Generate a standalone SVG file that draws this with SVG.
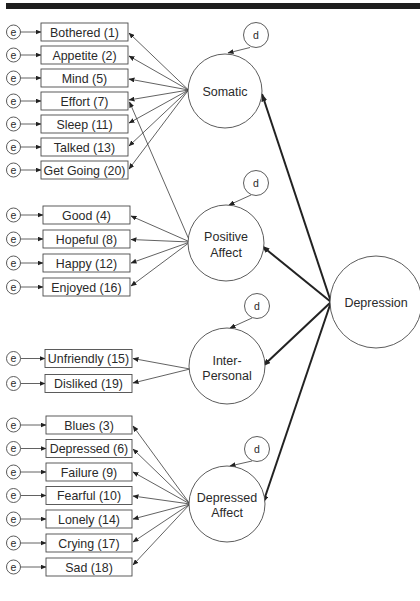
<svg xmlns="http://www.w3.org/2000/svg" width="420" height="601" viewBox="0 0 420 601">
<style>
text{font-family:"Liberation Sans",Arial,sans-serif;fill:#2a2a2a;text-anchor:middle}
.bt{font-size:12.4px}
.ct{font-size:12.5px}
.st{font-size:10.5px}
.box{fill:#fff;stroke:#4a4a4a;stroke-width:0.9}
.cir{fill:#fff;stroke:#4a4a4a;stroke-width:0.9}
.thin{stroke:#3a3a3a;stroke-width:0.8;fill:none;marker-end:url(#ah)}
.thick{stroke:#222;stroke-width:2;fill:none;marker-end:url(#ahb)}
</style>
<defs>
<marker id="ah" markerUnits="userSpaceOnUse" markerWidth="6" markerHeight="5" refX="5.5" refY="2.5" orient="auto"><path d="M0,0 L6,2.5 L0,5 Z" fill="#222"/></marker>
<marker id="ahb" markerUnits="userSpaceOnUse" markerWidth="8" markerHeight="6" refX="7.5" refY="3" orient="auto"><path d="M0,0 L8,3 L0,6 Z" fill="#222"/></marker>
</defs>
<rect x="6" y="3" width="414" height="6" fill="#1e1e1e"/>
<g id="connectors">
<!-- e to boxes -->
<line class="thin" x1="20.5" y1="32" x2="41" y2="32"/>
<line class="thin" x1="20.5" y1="55" x2="41" y2="55"/>
<line class="thin" x1="20.5" y1="78" x2="41" y2="78"/>
<line class="thin" x1="20.5" y1="101" x2="41" y2="101"/>
<line class="thin" x1="20.5" y1="124" x2="41" y2="124"/>
<line class="thin" x1="20.5" y1="147" x2="41" y2="147"/>
<line class="thin" x1="20.5" y1="170" x2="41" y2="170"/>
<line class="thin" x1="20.5" y1="215" x2="43" y2="215"/>
<line class="thin" x1="20.5" y1="239" x2="43" y2="239"/>
<line class="thin" x1="20.5" y1="263" x2="43" y2="263"/>
<line class="thin" x1="20.5" y1="287" x2="43" y2="287"/>
<line class="thin" x1="20.5" y1="358.5" x2="45" y2="358.5"/>
<line class="thin" x1="20.5" y1="383.5" x2="45" y2="383.5"/>
<line class="thin" x1="20.5" y1="425" x2="46" y2="425"/>
<line class="thin" x1="20.5" y1="448.5" x2="46" y2="448.5"/>
<line class="thin" x1="20.5" y1="472" x2="46" y2="472"/>
<line class="thin" x1="20.5" y1="495.5" x2="46" y2="495.5"/>
<line class="thin" x1="20.5" y1="519" x2="46" y2="519"/>
<line class="thin" x1="20.5" y1="543" x2="46" y2="543"/>
<line class="thin" x1="20.5" y1="567" x2="46" y2="567"/>
<!-- Somatic loadings -->
<line class="thin" x1="188.5" y1="90" x2="129" y2="33"/>
<line class="thin" x1="188.5" y1="90" x2="129" y2="56"/>
<line class="thin" x1="188.5" y1="90" x2="129" y2="79"/>
<line class="thin" x1="188.5" y1="90" x2="129" y2="100"/>
<line class="thin" x1="188.5" y1="90" x2="129" y2="123"/>
<line class="thin" x1="188.5" y1="90" x2="129" y2="146"/>
<line class="thin" x1="188.5" y1="90" x2="129" y2="169"/>
<!-- Positive affect loadings -->
<line class="thin" x1="190" y1="242" x2="131" y2="216"/>
<line class="thin" x1="190" y1="242" x2="131" y2="239.5"/>
<line class="thin" x1="190" y1="242" x2="131" y2="263"/>
<line class="thin" x1="190" y1="242" x2="131" y2="286"/>
<line class="thin" x1="190" y1="242" x2="129.5" y2="102"/>
<!-- Inter-personal loadings -->
<line class="thin" x1="190" y1="369" x2="133" y2="358.5"/>
<line class="thin" x1="190" y1="369" x2="133" y2="383"/>
<!-- Depressed affect loadings -->
<line class="thin" x1="190" y1="504" x2="133" y2="426"/>
<line class="thin" x1="190" y1="504" x2="133" y2="449"/>
<line class="thin" x1="190" y1="504" x2="133" y2="472"/>
<line class="thin" x1="190" y1="504" x2="133" y2="496"/>
<line class="thin" x1="190" y1="504" x2="133" y2="519"/>
<line class="thin" x1="190" y1="504" x2="133" y2="542"/>
<line class="thin" x1="190" y1="504" x2="133" y2="565"/>
<!-- disturbances -->
<line class="thin" x1="250" y1="47.5" x2="228" y2="53"/>
<line class="thin" x1="251" y1="195" x2="229" y2="205"/>
<line class="thin" x1="252" y1="318" x2="230" y2="328"/>
<line class="thin" x1="252" y1="461" x2="230" y2="466"/>
<!-- Depression paths -->
<line class="thick" x1="331" y1="302" x2="262" y2="94"/>
<line class="thick" x1="331" y1="302" x2="262" y2="246"/>
<line class="thick" x1="331" y1="302" x2="263" y2="366"/>
<line class="thick" x1="331" y1="302" x2="263" y2="503"/>
</g>
<g id="e-nodes">
<g id="e1"><circle class="cir" cx="13.5" cy="32" r="7"/><text class="st" x="13.5" y="35.8">e</text></g>
<g id="e2"><circle class="cir" cx="13.5" cy="55" r="7"/><text class="st" x="13.5" y="58.8">e</text></g>
<g id="e5"><circle class="cir" cx="13.5" cy="78" r="7"/><text class="st" x="13.5" y="81.8">e</text></g>
<g id="e7"><circle class="cir" cx="13.5" cy="101" r="7"/><text class="st" x="13.5" y="104.8">e</text></g>
<g id="e11"><circle class="cir" cx="13.5" cy="124" r="7"/><text class="st" x="13.5" y="127.8">e</text></g>
<g id="e13"><circle class="cir" cx="13.5" cy="147" r="7"/><text class="st" x="13.5" y="150.8">e</text></g>
<g id="e20"><circle class="cir" cx="13.5" cy="170" r="7"/><text class="st" x="13.5" y="173.8">e</text></g>
<g id="e4"><circle class="cir" cx="13.5" cy="215" r="7"/><text class="st" x="13.5" y="218.8">e</text></g>
<g id="e8"><circle class="cir" cx="13.5" cy="239" r="7"/><text class="st" x="13.5" y="242.8">e</text></g>
<g id="e12"><circle class="cir" cx="13.5" cy="263" r="7"/><text class="st" x="13.5" y="266.8">e</text></g>
<g id="e16"><circle class="cir" cx="13.5" cy="287" r="7"/><text class="st" x="13.5" y="290.8">e</text></g>
<g id="e15"><circle class="cir" cx="13.5" cy="358.5" r="7"/><text class="st" x="13.5" y="362.3">e</text></g>
<g id="e19"><circle class="cir" cx="13.5" cy="383.5" r="7"/><text class="st" x="13.5" y="387.3">e</text></g>
<g id="e3"><circle class="cir" cx="13.5" cy="425" r="7"/><text class="st" x="13.5" y="428.8">e</text></g>
<g id="e6"><circle class="cir" cx="13.5" cy="448.5" r="7"/><text class="st" x="13.5" y="452.3">e</text></g>
<g id="e9"><circle class="cir" cx="13.5" cy="472" r="7"/><text class="st" x="13.5" y="475.8">e</text></g>
<g id="e10"><circle class="cir" cx="13.5" cy="495.5" r="7"/><text class="st" x="13.5" y="499.3">e</text></g>
<g id="e14"><circle class="cir" cx="13.5" cy="519" r="7"/><text class="st" x="13.5" y="522.8">e</text></g>
<g id="e17"><circle class="cir" cx="13.5" cy="543" r="7"/><text class="st" x="13.5" y="546.8">e</text></g>
<g id="e18"><circle class="cir" cx="13.5" cy="567" r="7"/><text class="st" x="13.5" y="570.8">e</text></g>
</g>
<g id="items">
<g id="bothered"><rect class="box" x="41" y="23" width="87" height="18"/><text class="bt" x="84.5" y="36.5">Bothered (1)</text></g>
<g id="appetite"><rect class="box" x="41" y="46" width="87" height="18"/><text class="bt" x="84.5" y="59.5">Appetite (2)</text></g>
<g id="mind"><rect class="box" x="41" y="69" width="87" height="18"/><text class="bt" x="84.5" y="82.5">Mind (5)</text></g>
<g id="effort"><rect class="box" x="41" y="92" width="87" height="18"/><text class="bt" x="84.5" y="105.5">Effort (7)</text></g>
<g id="sleep"><rect class="box" x="41" y="115" width="87" height="18"/><text class="bt" x="84.5" y="128.5">Sleep (11)</text></g>
<g id="talked"><rect class="box" x="41" y="138" width="87" height="18"/><text class="bt" x="84.5" y="151.5">Talked (13)</text></g>
<g id="getgoing"><rect class="box" x="41" y="161" width="87" height="18"/><text class="bt" x="84.5" y="174.5">Get Going (20)</text></g>
<g id="good"><rect class="box" x="43" y="206" width="87" height="18"/><text class="bt" x="86.5" y="219.5">Good (4)</text></g>
<g id="hopeful"><rect class="box" x="43" y="230" width="87" height="18"/><text class="bt" x="86.5" y="243.5">Hopeful (8)</text></g>
<g id="happy"><rect class="box" x="43" y="254" width="87" height="18"/><text class="bt" x="86.5" y="267.5">Happy (12)</text></g>
<g id="enjoyed"><rect class="box" x="43" y="278" width="87" height="18"/><text class="bt" x="86.5" y="291.5">Enjoyed (16)</text></g>
<g id="unfriendly"><rect class="box" x="45" y="349.5" width="87" height="18"/><text class="bt" x="88.5" y="363">Unfriendly (15)</text></g>
<g id="disliked"><rect class="box" x="45" y="374.5" width="87" height="18"/><text class="bt" x="88.5" y="388">Disliked (19)</text></g>
<g id="blues"><rect class="box" x="46" y="416" width="86" height="18"/><text class="bt" x="89" y="429.5">Blues (3)</text></g>
<g id="depressed6"><rect class="box" x="46" y="439.5" width="86" height="18"/><text class="bt" x="89" y="453">Depressed (6)</text></g>
<g id="failure"><rect class="box" x="46" y="463" width="86" height="18"/><text class="bt" x="89" y="476.5">Failure (9)</text></g>
<g id="fearful"><rect class="box" x="46" y="486.5" width="86" height="18"/><text class="bt" x="89" y="500">Fearful (10)</text></g>
<g id="lonely"><rect class="box" x="46" y="510" width="86" height="18"/><text class="bt" x="89" y="523.5">Lonely (14)</text></g>
<g id="crying"><rect class="box" x="46" y="534" width="86" height="18"/><text class="bt" x="89" y="547.5">Crying (17)</text></g>
<g id="sad"><rect class="box" x="46" y="558" width="86" height="18"/><text class="bt" x="89" y="571.5">Sad (18)</text></g>
</g>
<g id="disturbances">
<g id="d1"><circle class="cir" cx="256" cy="35" r="12.5"/><text class="st" x="256" y="39">d</text></g>
<g id="d2"><circle class="cir" cx="256" cy="183" r="12.5"/><text class="st" x="256" y="187">d</text></g>
<g id="d3"><circle class="cir" cx="257" cy="306" r="12.5"/><text class="st" x="257" y="310">d</text></g>
<g id="d4"><circle class="cir" cx="257" cy="449" r="12.5"/><text class="st" x="257" y="453">d</text></g>
</g>
<g id="somatic"><circle class="cir" cx="225" cy="91" r="37"/><text class="ct" x="225" y="96">Somatic</text></g>
<g id="positive-affect"><circle class="cir" cx="226" cy="243" r="38"/><text class="ct" x="226" y="241">Positive</text><text class="ct" x="226" y="257">Affect</text></g>
<g id="inter-personal"><circle class="cir" cx="227" cy="366" r="38"/><text class="ct" x="227" y="365">Inter-</text><text class="ct" x="227" y="380">Personal</text></g>
<g id="depressed-affect"><circle class="cir" cx="227" cy="504" r="38"/><text class="ct" x="227" y="502">Depressed</text><text class="ct" x="227" y="517">Affect</text></g>
<g id="depression"><circle class="cir" cx="376" cy="302" r="46"/><text class="ct" x="376" y="307">Depression</text></g>
</svg>
